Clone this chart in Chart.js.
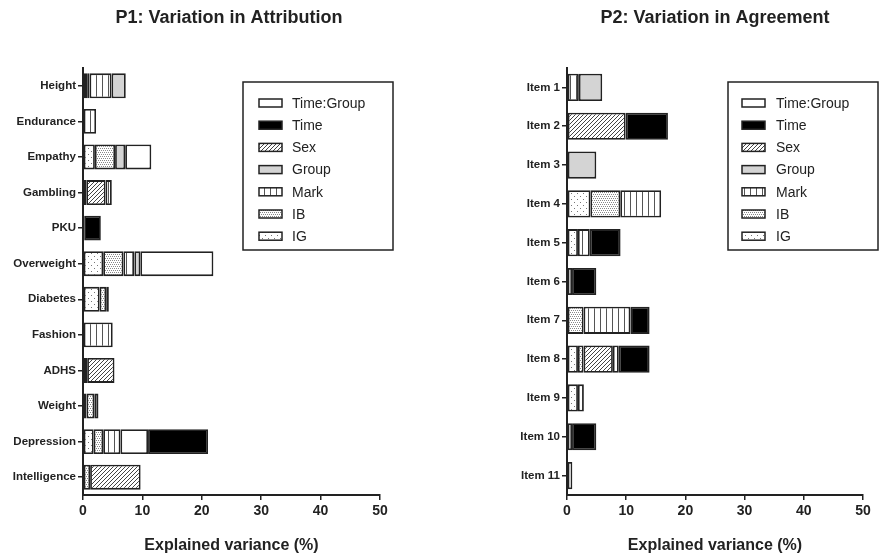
<!DOCTYPE html>
<html>
<head>
<meta charset="utf-8">
<script src="https://cdn.jsdelivr.net/npm/chart.js@4"></script>
<style>
  html, body { margin: 0; padding: 0; background: #fff; }
  #wrap { position: relative; width: 893px; height: 555px; }
  canvas { position: absolute; top: 0; }
  #c1 { left: 0; }
  #c2 { left: 450px; }
</style>
</head>
<body>
<div id="wrap">
  <canvas id="c1" width="450" height="555"></canvas>
  <canvas id="c2" width="443" height="555"></canvas>
</div>
<script>
/* two stacked bar panels: explained variance per component */

const factors = ['IG', 'IB', 'Sex', 'Mark', 'Group', 'Time:Group', 'Time'];
const legendOrder = ['Time:Group', 'Time', 'Sex', 'Group', 'Mark', 'IB', 'IG'];
const xTicks = [0, 10, 20, 30, 40, 50];

// P1
const p1Labels = ['Height', 'Endurance', 'Empathy', 'Gambling', 'PKU', 'Overweight',
                  'Diabetes', 'Fashion', 'ADHS', 'Weight', 'Depression', 'Intelligence'];
const p1IG        = [0.7, null, 2.0, null, null, 3.4, 2.8, null, null, 0.6, 1.8, null];
const p1IB        = [0.4, null, 3.4, 0.55, 0.2, 3.4, 1.1, null, 0.7, 1.3, 1.6, 1.2];
const p1Sex       = [null, null, null, 3.25, null, null, null, null, 4.6, null, null, 8.5];
const p1Mark      = [3.7, 2.2, null, 1.05, null, 1.85, null, 5.0, null, 0.7, 2.9, null];
const p1Group     = [2.4, null, 1.7, null, null, 1.0, null, null, null, null, null, null];
const p1TimeGroup = [null, null, 4.4, null, null, 12.3, null, null, null, null, 4.65, null];
const p1Time      = [null, null, null, null, 2.8, null, 0.45, null, null, null, 10.1, null];

// P2
const p2Labels = ['Item 1', 'Item 2', 'Item 3', 'Item 4', 'Item 5', 'Item 6',
                  'Item 7', 'Item 8', 'Item 9', 'Item 10', 'Item 11'];
const p2IG        = [null, null, null, 3.95, 1.85, 0.85, null, 1.85, 1.85, null, 0.9];
const p2IB        = [null, null, null, 5.05, null, null, 2.8, 0.95, null, null, null];
const p2Sex       = [null, 9.9, null, null, null, null, null, 4.95, null, null, null];
const p2Mark      = [2.0, null, null, 6.9, 2.0, null, 7.9, null, 1.0, null, null];
const p2Group     = [3.95, null, 4.95, null, null, null, null, null, null, null, null];
const p2TimeGroup = [null, null, null, null, null, null, null, 1.0, null, 0.85, null];
const p2Time      = [null, 7.15, null, null, 5.2, 4.1, 3.25, 5.2, null, 4.1, null];

const FONT = "'Liberation Sans', Arial, sans-serif";
const INK = '#222';

function makePattern(w, h, draw) {
    const c = document.createElement('canvas');
    c.width = w; c.height = h;
    const g = c.getContext('2d');
    g.fillStyle = '#fff';
    g.fillRect(0, 0, w, h);
    draw(g);
    return g.createPattern(c, 'repeat');
}

const fills = {
    'IG': makePattern(6, 6, g => {
        g.fillStyle = '#777';
        g.fillRect(1, 1, 1, 1);
        g.fillRect(4, 4, 1, 1);
    }),
    'IB': makePattern(6, 4, g => {
        g.fillStyle = '#888';
        g.fillRect(0, 0, 1, 1); g.fillRect(2, 0, 1, 1); g.fillRect(4, 0, 1, 1);
        g.fillRect(1, 2, 1, 1); g.fillRect(3, 2, 1, 1); g.fillRect(5, 2, 1, 1);
    }),
    'Sex': makePattern(4, 4, g => {
        g.strokeStyle = '#444';
        g.lineWidth = 1;
        g.beginPath();
        g.moveTo(0, 4); g.lineTo(4, 0);
        g.moveTo(-1, 1); g.lineTo(1, -1);
        g.moveTo(3, 5); g.lineTo(5, 3);
        g.stroke();
    }),
    'Mark': makePattern(6, 4, g => {
        g.fillStyle = '#555';
        g.fillRect(0, 0, 1, 4);
    }),
    'Group': '#d4d4d4',
    'Time:Group': '#ffffff',
    'Time': '#000000'
};

function buildDatasets(series) {
    return factors.map((f, i) => ({
        label: f,
        data: series[i],
        backgroundColor: fills[f],
        borderColor: INK,
        borderWidth: 1.8,
        borderSkipped: false,
        stack: 's',
        categoryPercentage: 1,
        barPercentage: 0.7
    }));
}

// titles + boxed legend drawn by hand, legend box sits inside the plot
const boxLegend = {
    id: 'boxLegend',
    afterDraw(chart, args, opts) {
        const ctx = chart.ctx;
        ctx.save();
        ctx.fillStyle = INK;
        ctx.font = 'bold 18px ' + FONT;
        ctx.textAlign = 'center';
        ctx.textBaseline = 'middle';
        ctx.fillText(opts.title, opts.titleX, 18);

        const [bx, by, bw, bh] = opts.box;
        ctx.strokeStyle = INK;
        ctx.lineWidth = 1.5;
        ctx.strokeRect(bx, by, bw, bh);

        ctx.font = '14px ' + FONT;
        ctx.textAlign = 'left';
        legendOrder.forEach((name, i) => {
            const y = opts.firstY + i * 22.2;
            ctx.fillStyle = fills[name];
            ctx.fillRect(opts.symX, y - 4, 23, 8);
            ctx.strokeStyle = INK;
            ctx.lineWidth = 1.5;
            ctx.strokeRect(opts.symX, y - 4, 23, 8);
            ctx.fillStyle = INK;
            ctx.fillText(name, opts.textX, y + 1);
        });
        ctx.restore();
    }
};

function makeChart(id, labels, series, yWidth, padRight, legendOpts) {
    return new Chart(document.getElementById(id), {
        type: 'bar',
        data: { labels: labels, datasets: buildDatasets(series) },
        plugins: [boxLegend],
        options: {
            indexAxis: 'y',
            responsive: false,
            animation: false,
            layout: { padding: { top: 68, right: padRight, left: 0, bottom: 0 } },
            scales: {
                x: {
                    stacked: true,
                    min: 0,
                    max: 50,
                    afterBuildTicks: s => { s.ticks = xTicks.map(v => ({ value: v })); },
                    afterFit: s => { s.height = 60; },
                    grid: { drawOnChartArea: false, drawTicks: true, tickLength: 5, color: INK, lineWidth: 1.5 },
                    border: { color: INK, width: 2 },
                    ticks: { color: INK, font: { family: FONT, size: 14, weight: 'bold' }, padding: 3 },
                    title: {
                        display: true,
                        text: 'Explained variance (%)',
                        color: INK,
                        font: { family: FONT, size: 16, weight: 'bold' },
                        padding: { top: 0, bottom: 0 }
                    }
                },
                y: {
                    stacked: true,
                    afterFit: s => { s.width = yWidth; },
                    grid: { drawOnChartArea: false, drawTicks: true, tickLength: 5, color: INK, lineWidth: 1.5, offset: false },
                    border: { color: INK, width: 2 },
                    ticks: { color: INK, font: { family: FONT, size: 11.5, weight: 'bold' }, padding: 2, autoSkip: false }
                }
            },
            plugins: {
                legend: { display: false },
                tooltip: { enabled: false },
                boxLegend: legendOpts
            }
        }
    });
}

makeChart('c1', p1Labels,
    [p1IG, p1IB, p1Sex, p1Mark, p1Group, p1TimeGroup, p1Time],
    83, 70,
    { title: 'P1: Variation in Attribution', titleX: 229,
      box: [243, 82, 150, 168], symX: 259, textX: 292, firstY: 103 });

makeChart('c2', p2Labels,
    [p2IG, p2IB, p2Sex, p2Mark, p2Group, p2TimeGroup, p2Time],
    117, 30,
    { title: 'P2: Variation in Agreement', titleX: 265,
      box: [278, 82, 150, 168], symX: 292, textX: 326, firstY: 103 });
</script>
</body>
</html>
